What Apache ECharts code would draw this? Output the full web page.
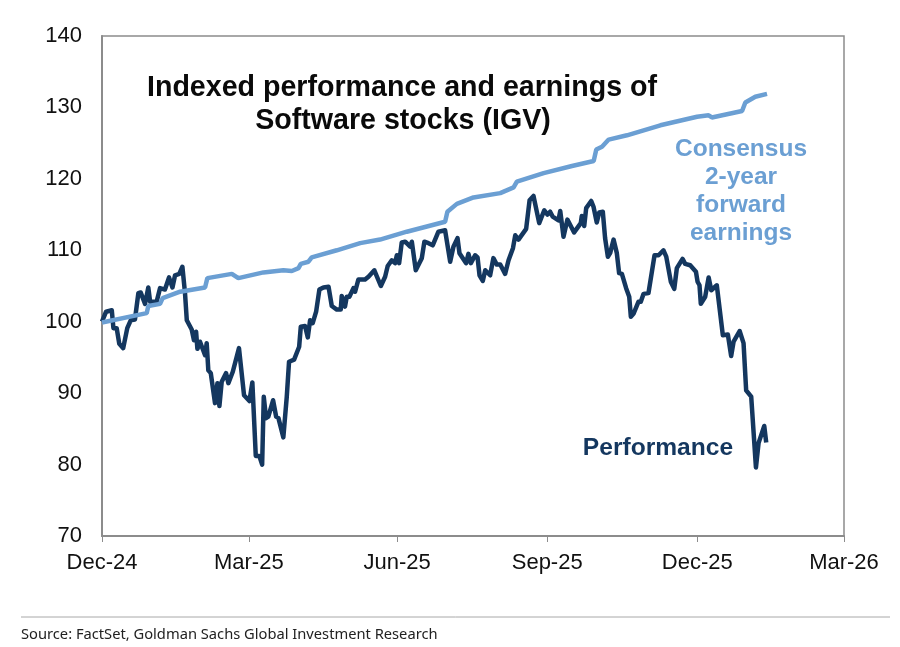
<!DOCTYPE html>
<html>
<head>
<meta charset="utf-8">
<style>
  html, body { margin: 0; padding: 0; background: #fff; }
  #main { width: 900px; height: 647px; }
</style>
<script src="https://cdn.jsdelivr.net/npm/echarts@6/dist/echarts.min.js"></script>
</head>
<body>
<div id="main"></div>
<script>
// x values are days after 31 Dec 2024
var tickDays = [0, 90, 181, 273, 365, 455];
var tickLabels = ['Dec-24', 'Mar-25', 'Jun-25', 'Sep-25', 'Dec-25', 'Mar-26'];

var perfDays = [0, 2.5, 6, 7, 9, 10.6, 13, 15.5, 17.6, 20.2, 22.3, 23.7, 26.4, 28.4, 29.5, 33.5, 35.6, 38.6, 41.1, 43.2, 44.8, 47.4, 49.3, 50.9, 52, 55, 56.4, 57.7, 58.5, 60.1, 63.2, 64.2, 65.2, 66.7, 69.3, 70.8, 72, 73.4, 76.1, 77.5, 80.2, 84, 87.1, 90.4, 92.2, 94.3, 96.5, 98.2, 99.2, 100.6, 102, 104.9, 106.8, 108.2, 111.2, 113.3, 114.7, 117.8, 120.9, 121.9, 124.5, 126.2, 127.6, 129.2, 131.3, 133.3, 135.8, 138.9, 140.9, 144, 146.4, 147, 149, 150.1, 151.7, 154.2, 155.2, 157.2, 161.3, 163.4, 167, 171, 173.6, 175.2, 177.7, 179.7, 180.8, 182.2, 183.8, 185.9, 189, 190, 192.4, 196.1, 197.7, 200.2, 202.8, 206.3, 210.4, 213.5, 215.5, 218, 219.2, 223.3, 224.7, 226.2, 228.8, 230.3, 231.5, 233.5, 235, 238, 240, 242.1, 244.2, 247.2, 249.3, 252, 253.4, 255.4, 260.1, 262.2, 264.6, 268.1, 271.2, 273.2, 274.8, 276.4, 279.9, 281, 282, 283, 285.4, 289.5, 293.6, 294.2, 295.7, 296.9, 300, 301.4, 303.4, 304.9, 307.1, 308.5, 310.2, 311.6, 313.7, 315.7, 317.1, 318.8, 321.4, 323.3, 324.3, 325.9, 329, 330.4, 332.1, 335.1, 338.8, 341.3, 344.3, 346, 348.8, 350.9, 352.5, 356, 357.6, 360.7, 364.2, 365.2, 366.4, 367.2, 369.9, 372, 373.6, 377, 380.7, 383.8, 385.8, 387.3, 391, 393.4, 395, 398.1, 401, 402.6, 406.1, 407.3];
var perfValues = [100, 101.4, 101.6, 99.1, 99.1, 96.9, 96.3, 99.1, 100.2, 100.3, 104, 104.1, 102.5, 104.8, 102.8, 102.8, 104.7, 104.5, 106.2, 104.8, 106.5, 106.7, 107.7, 104, 100.2, 98.9, 97.4, 98.6, 96.2, 97.2, 95.3, 97, 93.2, 92.8, 88.6, 91.4, 88.2, 91.6, 92.8, 91.4, 93, 96.3, 89.7, 88.9, 91.5, 81.2, 81.2, 80, 89.5, 86.5, 86.7, 89, 86.7, 86.5, 83.8, 89.5, 94.4, 94.7, 96.5, 99.3, 99.4, 97.8, 100.2, 99.8, 101.4, 104.5, 104.8, 104.9, 102.2, 101.7, 101.7, 103.6, 102.1, 103.5, 103.5, 104.7, 104.2, 105.9, 105.9, 106.3, 107.2, 105, 106.3, 107.8, 108.6, 108.2, 109.3, 108.2, 111.1, 111.2, 110.5, 111.2, 107.2, 108.9, 111.2, 111, 110.7, 112.6, 112.8, 108.4, 110.5, 111.7, 109.6, 108.2, 109.5, 108.2, 109.3, 109, 106.5, 105.7, 107.2, 106.5, 108.9, 108, 108, 106.7, 108.6, 110.3, 112.1, 111.5, 113, 117, 117.6, 113.8, 115.6, 115, 115.4, 114.7, 114.2, 115.5, 115.4, 111.9, 114.3, 112.5, 113.8, 114.8, 113.4, 115.9, 116.9, 116.1, 113.9, 115.3, 115.4, 111.7, 109.1, 109.6, 111.5, 109.6, 106.8, 106.7, 104.7, 103.5, 100.7, 101.1, 102.8, 102.8, 103.9, 104, 109.3, 109.3, 110, 109.1, 105.6, 104.6, 107.5, 108.8, 108.1, 107.9, 107, 105.6, 105.1, 102.5, 103.5, 106.2, 104.4, 105.1, 98.1, 98.2, 95.2, 97.2, 98.7, 97, 90.4, 89.5, 79.6, 83, 85.4, 83.1];

var earnDays = [0, 27.4, 28.4, 35.6, 37.2, 47.9, 63.2, 64.6, 79.6, 83.6, 99, 111.2, 116.4, 120.5, 121.9, 126.6, 128.6, 144, 158.3, 170.5, 186.9, 210.4, 211.8, 217.6, 227.8, 244.2, 252.4, 254.4, 270.8, 288.2, 301.5, 303.1, 306.6, 310.7, 321.9, 342.4, 364.9, 372, 374, 392.5, 394.5, 400.6, 407.8];
var earnValues = [99.9, 101.2, 102.2, 102.5, 103.3, 104.2, 104.8, 106.1, 106.7, 106.1, 106.9, 107.2, 107.1, 107.5, 108.1, 108.4, 109, 110, 111, 111.5, 112.6, 114, 115.4, 116.5, 117.4, 118, 118.8, 119.6, 120.8, 121.8, 122.5, 124.1, 124.5, 125.5, 126.1, 127.5, 128.7, 128.9, 128.6, 129.5, 130.7, 131.5, 131.9];

var lightBlue = '#6b9fd3';
var darkBlue = '#14375f';
var axisGray = '#8c8c8c';
var axisFont = '"Liberation Sans", Arial, sans-serif';

function pairs(xs, ys) {
  return xs.map(function (x, i) { return [x, ys[i]]; });
}

function label(x, y, text, size, color) {
  return {
    type: 'text',
    x: x,
    y: y,
    style: {
      text: text,
      fill: color,
      font: 'bold ' + size + 'px ' + axisFont,
      align: 'center',
      verticalAlign: 'middle'
    }
  };
}

var myChart = echarts.init(document.getElementById('main'));

myChart.setOption({
  animation: false,
  backgroundColor: '#fff',
  grid: {
    left: 102, top: 36, width: 742, height: 500,
    show: true, borderColor: axisGray, borderWidth: 1.5, backgroundColor: 'transparent'
  },
  xAxis: {
    type: 'value',
    min: 0,
    max: 455,
    splitLine: { show: false },
    axisLine: { lineStyle: { color: axisGray, width: 2 } },
    axisTick: { show: true, length: 6, customValues: tickDays, lineStyle: { color: axisGray, width: 1 } },
    axisLabel: {
      customValues: tickDays,
      margin: 16,
      color: '#111',
      fontFamily: axisFont,
      fontSize: 22,
      hideOverlap: false,
      formatter: function (v) { return tickLabels[tickDays.indexOf(v)]; }
    }
  },
  yAxis: {
    type: 'value',
    min: 70,
    max: 140,
    interval: 10,
    splitLine: { show: false },
    axisLine: { show: true, lineStyle: { color: axisGray, width: 2 } },
    axisTick: { show: false },
    axisLabel: { margin: 20, padding: [3, 0, 0, 0], color: '#111', fontFamily: axisFont, fontSize: 22 }
  },
  series: [
    {
      name: 'Consensus 2-year forward earnings',
      type: 'line',
      data: pairs(earnDays, earnValues),
      showSymbol: false,
      lineStyle: { color: lightBlue, width: 4.5 },
      itemStyle: { color: lightBlue },
      z: 3
    },
    {
      name: 'Performance',
      type: 'line',
      data: pairs(perfDays, perfValues),
      showSymbol: false,
      lineStyle: { color: darkBlue, width: 4.5, join: 'round' },
      itemStyle: { color: darkBlue },
      z: 2
    }
  ],
  graphic: [
    label(402, 88, 'Indexed performance and earnings of', 28.6, '#0a0a0a'),
    label(403, 121, 'Software stocks (IGV)', 28.6, '#0a0a0a'),
    label(741, 149, 'Consensus', 24.5, lightBlue),
    label(741, 177, '2-year', 24.5, lightBlue),
    label(741, 205, 'forward', 24.5, lightBlue),
    label(741, 233, 'earnings', 24.5, lightBlue),
    label(658, 448, 'Performance', 24.6, darkBlue),
    { type: 'line', shape: { x1: 21, y1: 617, x2: 890, y2: 617 }, style: { stroke: '#a8a8a8', lineWidth: 1 } },
    {
      type: 'text',
      x: 21,
      y: 635,
      style: {
        text: 'Source: FactSet, Goldman Sachs Global Investment Research',
        fill: '#222',
        font: '14.7px "Noto Sans", sans-serif',
        align: 'left',
        verticalAlign: 'middle'
      }
    }
  ]
});
</script>
</body>
</html>
